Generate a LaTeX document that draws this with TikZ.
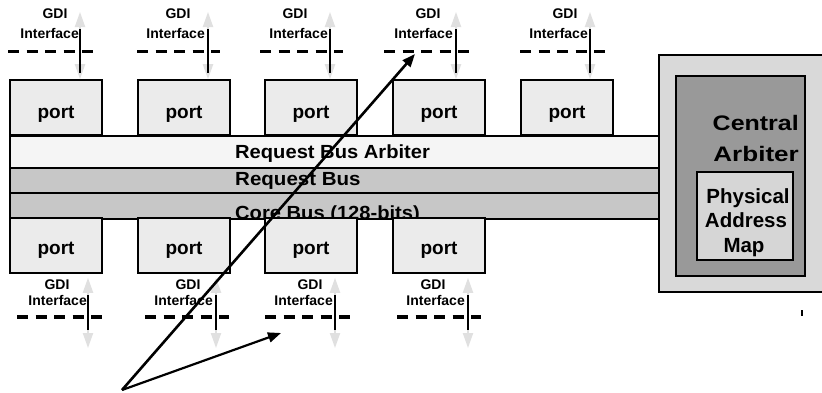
\documentclass[tikz,border=0pt]{standalone}
\usepackage{fontspec}
\setmainfont{Liberation Sans}
\usetikzlibrary{arrows.meta}
\definecolor{portfill}{gray}{0.92}
\definecolor{arbfill}{gray}{0.96}
\definecolor{busfill}{gray}{0.78}
\definecolor{outerfill}{gray}{0.85}
\definecolor{innerfill}{gray}{0.60}
\definecolor{mapfill}{gray}{0.84}
\definecolor{ghost}{gray}{0.88}
\newcommand\widen[2]{\scalebox{#1}[1]{#2}}
\begin{document}
\begin{tikzpicture}[x=1pt,y=-1pt,
  boxline/.style={draw=black,line width=1.6pt},
  portbox/.style={boxline,fill=portfill,minimum width=92pt,minimum height=55pt,inner sep=0pt},
  porttext/.style={anchor=base,inner sep=0pt,font=\fontsize{19}{21}\selectfont\bfseries},
  gditext/.style={inner sep=0pt,font=\fontsize{14}{16}\selectfont\bfseries},
  bustext/.style={anchor=base west,inner sep=0pt,font=\fontsize{19}{21}\selectfont\bfseries},
  bigtext/.style={inner sep=0pt,font=\fontsize{21}{24}\selectfont\bfseries},
  maptext/.style={anchor=base,inner sep=0pt,font=\fontsize{20.5}{24}\selectfont\bfseries},
  ifline/.style={line width=3.6pt,dash pattern=on 11pt off 7.5pt},
  ghostarrow/.style={draw=ghost,line width=2pt,{Triangle[length=15pt,width=10pt,fill=ghost]}-{Triangle[length=15pt,width=10pt,fill=ghost]}},
  blackbar/.style={draw=black,line width=1.8pt},
  pointer/.style={draw=black,line width=2.6pt,-{Triangle[length=13pt,width=10pt]}}
]
\useasboundingbox (0,0) rectangle (822,392);
\fill[white] (0,0) rectangle (822,392);
\clip (0,0) rectangle (822,392);

% central arbiter
\node[boxline,fill=outerfill,minimum width=180pt,minimum height=237pt,inner sep=0pt,anchor=north west] (outer) at (658,54) {};
\node[boxline,fill=innerfill,minimum width=129pt,minimum height=200pt,inner sep=0pt,anchor=north west] (inner) at (675,75) {};
\node[boxline,fill=mapfill,minimum width=96pt,minimum height=88pt,inner sep=0pt,anchor=north west] (map) at (696,171) {};
\node[bigtext,anchor=base east] (central) at (799,130) {\widen{1.19}{Central}};
\node[bigtext,anchor=base east] (arbiter) at (799,161) {\widen{1.24}{Arbiter}};
\node[maptext] (phys) at (748,203) {Physical};
\node[maptext] (addr) at (746,227) {Address};
\node[maptext] (mapt) at (744,252) {Map};

% buses
\node[boxline,fill=arbfill,minimum width=649pt,minimum height=32pt,inner sep=0pt,anchor=north west] (rba) at (9,135) {};
\node[boxline,fill=busfill,minimum width=649pt,minimum height=25pt,inner sep=0pt,anchor=north west] (rb) at (9,167) {};
\node[boxline,fill=busfill,minimum width=649pt,minimum height=26pt,inner sep=0pt,anchor=north west] (cb) at (9,192) {};
\node[bustext] (rbat) at (235,158) {\widen{1.06}{Request Bus Arbiter}};
\node[bustext] (rbt) at (235,185) {\widen{1.08}{Request Bus}};
\begin{scope}
\clip (9,192) rectangle (658,218);
\node[bustext] (cbt) at (235,219.5) {\widen{1.06}{Core Bus (128-bits)}};
\end{scope}
\draw[black,line width=1.6pt] (cb.south west) -- (cb.south east);

% top ports and GDI interfaces
\foreach \i/\px/\vx/\gx/\ix/\da/\db in {1/56/80/55/79/8/95, 2/184/208/178/205/137/220, 3/311/330/295/328/260/343, 4/439/456/428/453/384/470, 5/567/590/565/588/520/605}{
  \node[portbox] (pT\i) at (\px,107.5) {};
  \node[porttext] (pTt\i) at (\px,118) {port};
  \node[gditext,anchor=base] (gT\i) at (\gx,18.5) {GDI};
  \node[gditext,anchor=base east] (iT\i) at (\ix,38) {Interface};
  \coordinate (dTa\i) at (\da,51.5);
  \coordinate (dTb\i) at (\db,51.5);
  \draw[ifline] (dTa\i) -- (dTb\i);
  \coordinate (aT\i) at (\vx,12);
  \draw[ghostarrow] (aT\i) -- (pT\i.north -| aT\i);
  \draw[blackbar] (\vx,29) -- (\vx,73);
}

% bottom ports and GDI interfaces
\foreach \i/\px/\vx/\gx/\ix/\da/\db in {1/56/88/57/87/17/103, 2/184/216/188/213/145/229, 3/311/335/310/333/265/351, 4/439/468/433/465/397/481}{
  \node[portbox] (pB\i) at (\px,245.5) {};
  \node[porttext] (pBt\i) at (\px,254) {port};
  \node[gditext,anchor=base] (gB\i) at (\gx,289) {GDI};
  \node[gditext,anchor=base east] (iB\i) at (\ix,305.5) {Interface};
  \coordinate (dBa\i) at (\da,317);
  \coordinate (dBb\i) at (\db,317);
  \draw[ifline] (dBa\i) -- (dBb\i);
  \coordinate (aB\i) at (\vx,348);
  \draw[ghostarrow] (pB\i.south -| aB\i) ++(0,4) -- (aB\i);
  \draw[blackbar] (\vx,295) -- (\vx,330);
}

% small tick
\coordinate (tickA) at (802,310);
\coordinate (tickB) at (802,316);
\draw[black,line width=2pt] (tickA) -- (tickB);

% pointers
\coordinate (src) at (122,390);
\coordinate (tgt1) at (415,54);
\coordinate (tgt2) at (281,333);
\draw[pointer] (src) -- (tgt1);
\draw[pointer,line width=2.2pt] (src) -- (tgt2);
\end{tikzpicture}
\end{document}
